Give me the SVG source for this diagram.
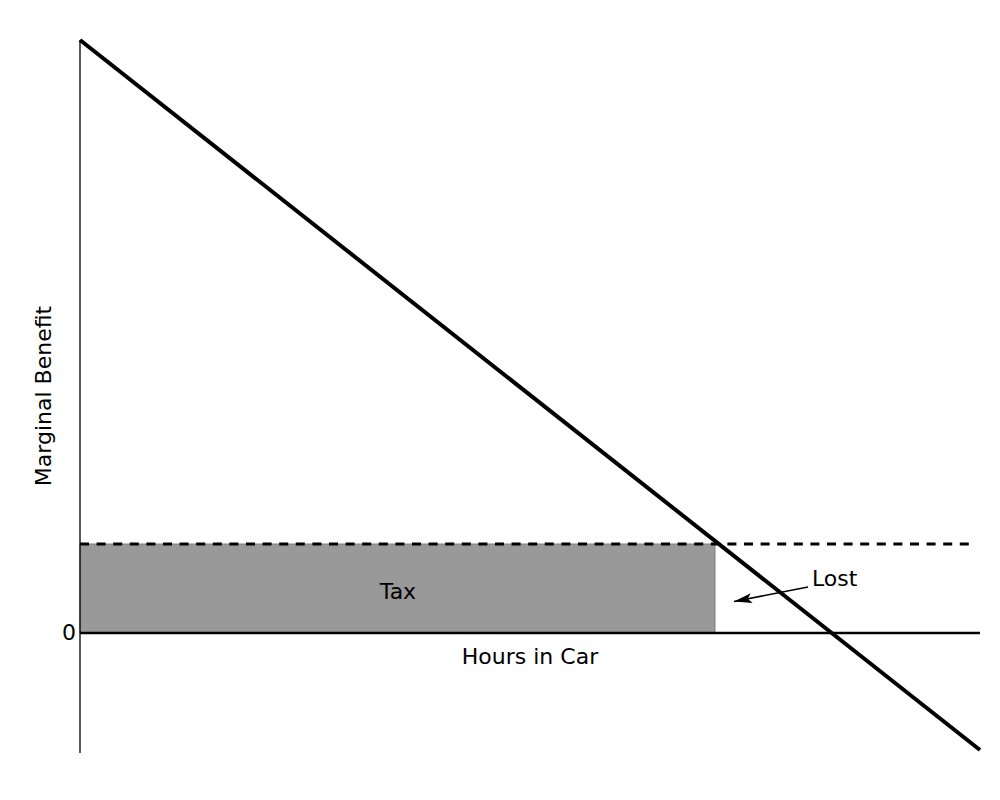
<svg xmlns="http://www.w3.org/2000/svg" width="1000" height="800" viewBox="0 0 1000 800">
<style>
text{font-family:"DejaVu Sans","Liberation Sans",sans-serif;font-size:22px;fill:#000}
</style>
<defs>
<marker id="head" viewBox="0 0 18 10" refX="18" refY="5" markerWidth="18" markerHeight="10" orient="auto" markerUnits="userSpaceOnUse">
<path d="M0,0 L18,5 L0,10 L4,5 Z" fill="#000"/>
</marker>
</defs>
<rect width="1000" height="800" fill="#fff"/>
<g id="tax-area">
<rect x="80" y="544" width="635" height="89" fill="#999999" stroke="#808080" stroke-width="1"/>
<text x="398" y="599" text-anchor="middle">Tax</text>
</g>
<g id="axes">
<line x1="80" y1="40" x2="80" y2="753" stroke="#000" stroke-width="1.3"/>
<line x1="80" y1="633" x2="980" y2="633" stroke="#000" stroke-width="2.6"/>
<text x="76" y="640" text-anchor="end">0</text>
<text x="530" y="664" text-anchor="middle">Hours in Car</text>
<text transform="translate(51,396) rotate(-90)" text-anchor="middle">Marginal Benefit</text>
</g>
<g id="connectors">
<line id="tax-line" x1="80" y1="544" x2="973" y2="544" stroke="#000" stroke-width="3" stroke-dasharray="9,7.6"/>
<line id="mb-curve" x1="80" y1="40" x2="980" y2="750" stroke="#000" stroke-width="4"/>
<line id="lost-arrow" x1="808" y1="587" x2="734" y2="601.5" stroke="#000" stroke-width="1.5" marker-end="url(#head)"/>
</g>
<g id="lost-label">
<text x="812" y="586">Lost</text>
</g>
</svg>
